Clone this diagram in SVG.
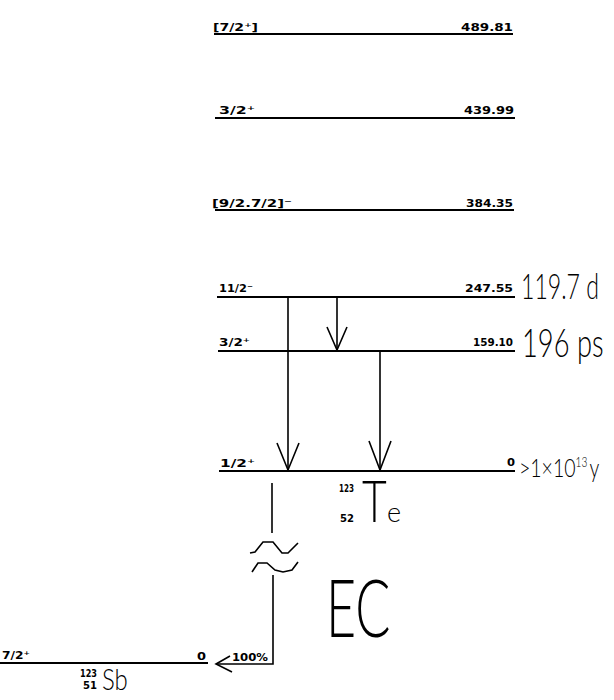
<svg xmlns="http://www.w3.org/2000/svg" width="614" height="700" viewBox="0 0 614 700">
<style>
  .lvl{stroke:#000;stroke-width:2;fill:none}
  .tr{stroke:#000;stroke-width:1.6;fill:none}
  .lb{font-family:"DejaVu Sans",sans-serif;font-weight:bold;font-size:11px;fill:#000}
  .big{font-family:Lato,"DejaVu Sans",sans-serif;font-weight:300;fill:#000}
</style>
<rect width="614" height="700" fill="#fff"/>
<g id="level-489">
  <line class="lvl" x1="214" y1="34" x2="513" y2="34"/>
  <text class="lb" x="213" y="31" textLength="45" lengthAdjust="spacingAndGlyphs">[7/2⁺]</text>
  <text class="lb" x="513" y="31" text-anchor="end" textLength="52" lengthAdjust="spacingAndGlyphs">489.81</text>
</g>
<g id="level-439">
  <line class="lvl" x1="215" y1="118" x2="515" y2="118"/>
  <text class="lb" x="219" y="114" textLength="36" lengthAdjust="spacingAndGlyphs">3/2⁺</text>
  <text class="lb" x="514" y="114" text-anchor="end" textLength="50" lengthAdjust="spacingAndGlyphs">439.99</text>
</g>
<g id="level-384">
  <line class="lvl" x1="215" y1="210" x2="514" y2="210"/>
  <text class="lb" x="212" y="207" textLength="80" lengthAdjust="spacingAndGlyphs">[9/2.7/2]⁻</text>
  <text class="lb" x="513" y="207" text-anchor="end" textLength="47" lengthAdjust="spacingAndGlyphs">384.35</text>
</g>
<g id="level-247">
  <line class="lvl" x1="217" y1="297" x2="515" y2="297"/>
  <text class="lb" x="219" y="292" textLength="34" lengthAdjust="spacingAndGlyphs">11/2⁻</text>
  <text class="lb" x="513" y="292" text-anchor="end" textLength="48" lengthAdjust="spacingAndGlyphs">247.55</text>
  <text class="big" transform="translate(521,299) scale(0.66,1)" font-size="35">119.7 d</text>
</g>
<g id="level-159">
  <line class="lvl" x1="218" y1="351" x2="515" y2="351"/>
  <text class="lb" x="219" y="346" textLength="31" lengthAdjust="spacingAndGlyphs">3/2⁺</text>
  <text class="lb" x="513" y="346" text-anchor="end" textLength="40" lengthAdjust="spacingAndGlyphs">159.10</text>
  <text class="big" transform="translate(522,357) scale(0.7,1)" font-size="39">196 ps</text>
</g>
<g id="level-0-Te">
  <line class="lvl" x1="219" y1="471" x2="515" y2="471"/>
  <text class="lb" x="220" y="467" textLength="35" lengthAdjust="spacingAndGlyphs">1/2⁺</text>
  <text class="lb" x="507" y="466" textLength="8" lengthAdjust="spacingAndGlyphs">0</text>
  <text class="big" transform="translate(519,477) scale(0.78,1)" font-size="25">&gt;1×10<tspan font-size="13" dy="-10">13</tspan><tspan dy="10" dx="3">y</tspan></text>
  <text class="lb" x="339" y="492" font-size="12" textLength="15" lengthAdjust="spacingAndGlyphs">123</text>
  <text class="lb" x="340" y="522" font-size="12" textLength="14" lengthAdjust="spacingAndGlyphs">52</text>
  <text class="big" transform="translate(362,522) scale(0.75,1)" font-size="57">T</text>
  <text class="big" x="387" y="522" font-size="27">e</text>
</g>
<g id="level-Sb">
  <line class="lvl" x1="0" y1="663" x2="208" y2="663"/>
  <text class="lb" x="2" y="659" textLength="28" lengthAdjust="spacingAndGlyphs">7/2⁺</text>
  <text class="lb" x="197" y="660" textLength="9" lengthAdjust="spacingAndGlyphs">0</text>
  <text class="lb" x="80" y="677" font-size="12" textLength="17" lengthAdjust="spacingAndGlyphs">123</text>
  <text class="lb" x="83" y="689" font-size="12" textLength="14" lengthAdjust="spacingAndGlyphs">51</text>
  <text class="big" transform="translate(102,690) scale(0.8,1)" font-size="30">Sb</text>
</g>
<g id="ec-label">
  <text class="big" transform="translate(326,637) scale(0.65,1)" font-size="80">EC</text>
  <text class="lb" x="232" y="661" font-size="12" textLength="36" lengthAdjust="spacingAndGlyphs">100%</text>
</g>
<g id="connectors">
  <line class="tr" x1="288" y1="297" x2="288" y2="470"/>
  <polyline class="tr" points="277,443 288,470 299,443"/>
  <line class="tr" x1="337" y1="297" x2="337" y2="350"/>
  <polyline class="tr" points="327,327 337,350 347,327"/>
  <line class="tr" x1="380" y1="351" x2="380" y2="470"/>
  <polyline class="tr" points="369,441 380,470 391,441"/>
  <line class="tr" x1="272" y1="483" x2="272" y2="533"/>
  <polyline class="tr" points="250,553 255,552 263,542 273,542 282,553 288,553 298,543"/>
  <polyline class="tr" points="252,572 258,563 267,563 275,570 283,572 292,570 298,562"/>
  <polyline class="tr" points="273,575 273,664 216,664"/>
  <polyline class="tr" points="230,656 216,664 232,672"/>
</g>
</svg>
